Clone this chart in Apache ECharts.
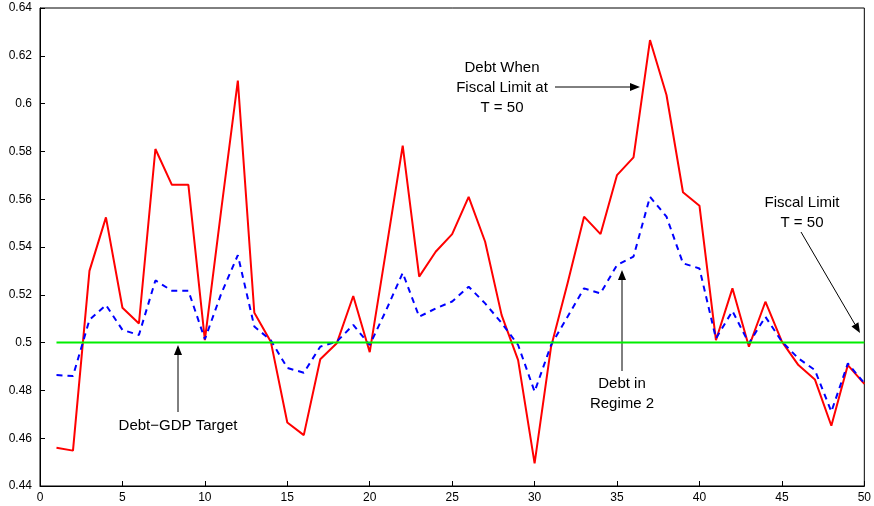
<!DOCTYPE html>
<html>
<head>
<meta charset="UTF-8">
<script src="https://cdn.jsdelivr.net/npm/echarts@6/dist/echarts.min.js"></script>
</head>
<body style="margin:0">
<div id="main" style="width:874px;height:506px;"></div>
<script>
var periods = [];
for (var i = 1; i <= 50; i++) periods.push(i);
var debtFiscalLimit = [0.456, 0.4548, 0.530, 0.5524, 0.5146, 0.508, 0.581, 0.566, 0.566, 0.501,
  0.556, 0.6096, 0.5125, 0.5004, 0.4666, 0.4613, 0.493, 0.4997, 0.5195, 0.496,
  0.539, 0.5824, 0.5276, 0.538, 0.5454, 0.561, 0.5422, 0.5115, 0.4927, 0.4495,
  0.4983, 0.5248, 0.5527, 0.5454, 0.5701, 0.5775, 0.6266, 0.6036, 0.5629, 0.5573,
  0.501, 0.5227, 0.4983, 0.5171, 0.5004, 0.4906, 0.4846, 0.4652, 0.4906, 0.4827];
var debtRegime2 = [0.4864, 0.486, 0.5095, 0.5157, 0.5053, 0.5032, 0.526, 0.5217, 0.5217, 0.5014,
  0.5206, 0.5366, 0.5067, 0.501, 0.4894, 0.4874, 0.4983, 0.5004, 0.5074, 0.499,
  0.5136, 0.5292, 0.5108, 0.5143, 0.5172, 0.5234, 0.5164, 0.5082, 0.499, 0.4795,
  0.499, 0.5108, 0.5227, 0.5206, 0.5325, 0.536, 0.561, 0.5527, 0.5332, 0.531,
  0.5017, 0.5132, 0.4997, 0.5108, 0.5004, 0.4934, 0.4885, 0.4711, 0.4913, 0.483];
var target = 0.5;

function zip(ys) { return ys.map(function (y, i) { return [periods[i], y]; }); }

var font = 'Liberation Sans, Arial, sans-serif';
function label(x, y, lines) {
  return { type: 'text', x: x, y: y, style: { text: lines, font: '15px ' + font, fill: '#000', textAlign: 'center', textVerticalAlign: 'top', lineHeight: 20 } };
}
function arrow(x1, y1, x2, y2) {
  var a = Math.atan2(y2 - y1, x2 - x1), L = 10, W = 4;
  var bx = x2 - L * Math.cos(a), by = y2 - L * Math.sin(a);
  return [
    { type: 'line', shape: { x1: x1, y1: y1, x2: bx, y2: by }, style: { stroke: '#000', lineWidth: 1 } },
    { type: 'polygon', shape: { points: [[x2, y2], [bx - W * Math.sin(a), by + W * Math.cos(a)], [bx + W * Math.sin(a), by - W * Math.cos(a)]] }, style: { fill: '#000' } }
  ];
}

var graphics = [
  label(178, 416, 'Debt\u2212GDP Target'),
  label(502, 58, 'Debt When\nFiscal Limit at\nT = 50'),
  label(622, 374, 'Debt in\nRegime 2'),
  label(802, 193, 'Fiscal Limit\nT = 50')
].concat(arrow(178, 412, 178, 345), arrow(555, 87, 640, 87), arrow(622, 371, 622, 270), arrow(801, 232, 860, 333));

var chart = echarts.init(document.getElementById('main'));
chart.setOption({
  backgroundColor: '#fff',
  animation: false,
  grid: { left: 40, right: 6, top: 8, bottom: 20, show: true, borderColor: '#000', borderWidth: 1 },
  xAxis: {
    type: 'value', min: 0, max: 50, interval: 5,
    axisLine: { lineStyle: { color: '#000' } },
    axisTick: { inside: true, length: 5, lineStyle: { color: '#000' } },
    axisLabel: { color: '#000', fontSize: 12, fontFamily: font, margin: 6 },
    splitLine: { show: false }
  },
  yAxis: {
    type: 'value', min: 0.44, max: 0.64, interval: 0.02,
    axisLine: { show: true, lineStyle: { color: '#000' } },
    axisTick: { show: true, inside: true, length: 5, lineStyle: { color: '#000' } },
    axisLabel: { color: '#000', fontSize: 12, fontFamily: font, formatter: function (v) { return String(parseFloat(v.toFixed(2))); } },
    splitLine: { show: false }
  },
  series: [
    { type: 'line', data: zip(debtFiscalLimit), symbol: 'none', lineStyle: { color: '#ff0000', width: 2 } },
    { type: 'line', data: zip(debtRegime2), symbol: 'none', lineStyle: { color: '#0000ff', width: 2, type: [6, 5] } },
    { type: 'line', data: [[1, target], [50, target]], symbol: 'none', lineStyle: { color: '#00ee00', width: 2 } }
  ],
  graphic: graphics
});
</script>
</body>
</html>
